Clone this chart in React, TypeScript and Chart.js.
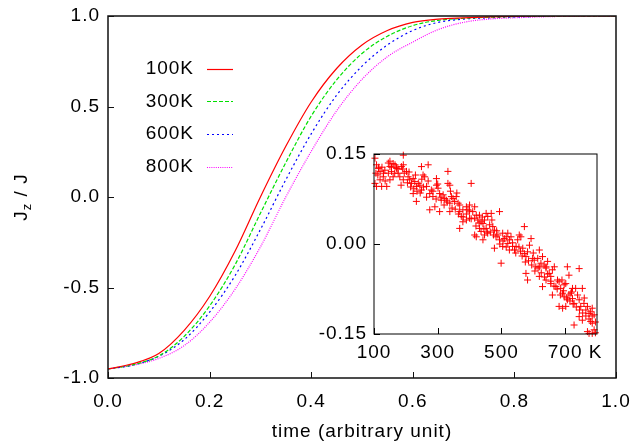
import { useEffect, useRef } from 'react';
import { Chart, registerables } from 'chart.js';

Chart.register(...registerables);

const FONT_FAMILY = '"Liberation Sans", Arial, Helvetica, sans-serif';
const FONT_SIZE = 19;

// ---- main plot data ----
const times = [0, 0.05, 0.1, 0.15, 0.2, 0.25, 0.3, 0.35, 0.4, 0.45, 0.5, 0.55, 0.6, 0.65, 0.7, 0.75, 0.8, 0.85, 0.9, 0.95, 1.0];
const series100K = [-0.95, -0.92, -0.865, -0.737, -0.55, -0.3, 0.0, 0.28, 0.525, 0.71, 0.84, 0.92, 0.965, 0.983, 0.99, 0.995, 0.998, 1.0, 1.0, 1.0, 1.0];
const series300K = [-0.95, -0.926, -0.878, -0.77, -0.602, -0.375, -0.09, 0.19, 0.447, 0.647, 0.793, 0.888, 0.947, 0.976, 0.987, 0.993, 0.997, 0.999, 1.0, 1.0, 1.0];
const series600K = [-0.95, -0.928, -0.88, -0.788, -0.636, -0.435, -0.18, 0.095, 0.349, 0.562, 0.723, 0.84, 0.92, 0.965, 0.983, 0.99, 0.995, 0.998, 1.0, 1.0, 1.0];
const series800K = [-0.95, -0.929, -0.892, -0.821, -0.692, -0.51, -0.276, 0.0, 0.252, 0.476, 0.65, 0.775, 0.856, 0.925, 0.965, 0.983, 0.99, 0.995, 0.998, 1.0, 1.0];
const seriesLabels = ['100K', '300K', '600K', '800K'];
const mainXTicks = [0, 0.2, 0.4, 0.6, 0.8, 1.0];
const mainYTicks = [-1, -0.5, 0, 0.5, 1];
const xTitle = 'time (arbitrary unit)';

// ---- inset data ----
const insetTemps = [
  103, 108, 114, 119, 106, 103, 108, 124, 140, 129, 119, 134, 150, 160, 166, 171, 155, 145, 160, 150,
  176, 181, 192, 186, 192, 192, 202, 207, 212, 218, 223, 228, 233, 223, 239, 244, 249, 254, 259, 249,
  233, 265, 270, 275, 280, 285, 296, 296, 301, 306, 311, 291, 275, 306, 317, 322, 327, 332, 332, 338,
  338, 343, 348, 353, 358, 364, 369, 338, 369, 374, 379, 390, 395, 400, 405, 410, 416, 416, 421, 426,
  431, 436, 442, 447, 452, 457, 463, 468, 369, 379, 390, 400, 416, 421, 431, 436, 442, 447, 452, 457,
  473, 478, 483, 489, 494, 494, 504, 509, 515, 520, 478, 499, 504, 525, 530, 535, 541, 546, 551, 556,
  561, 567, 572, 572, 577, 582, 588, 593, 598, 603, 608, 614, 619, 624, 629, 634, 640, 645, 650, 655,
  660, 666, 577, 582, 619, 629, 640, 655, 660, 671, 676, 681, 686, 692, 697, 702, 707, 712, 697, 707,
  712, 723, 728, 733, 739, 744, 744, 749, 754, 759, 765, 770, 775, 780, 785, 791, 681, 692, 728, 744,
  754, 770, 775, 780, 785, 791, 785, 795, 619, 702, 718, 723,
  112, 125, 135, 145, 155, 165, 175, 185, 195, 205, 215, 225, 235, 245, 255, 265, 285, 295, 310, 320,
  330, 345, 355, 365, 380, 390, 405, 420, 430, 445, 455, 465, 475, 485, 495, 505, 515, 525, 535, 545,
  555, 565, 575, 585, 595, 605, 615, 625, 635, 645, 655, 665, 675, 685, 695, 705, 715, 725, 735, 745,
  755, 765, 775, 785, 795, 760, 720, 690, 600, 640, 560, 520, 470, 440, 400, 360, 340, 300, 270, 250,
  230, 210, 190, 170, 150, 130, 115,
];
const insetValues = [
  0.143, 0.132, 0.126, 0.121, 0.118, 0.101, 0.096, 0.096, 0.096, 0.112, 0.107, 0.123, 0.129, 0.134, 0.132, 0.126, 0.121, 0.118, 0.112, 0.107,
  0.118, 0.112, 0.107, 0.129, 0.132, 0.148, 0.121, 0.112, 0.107, 0.101, 0.109, 0.104, 0.096, 0.084, 0.101, 0.098, 0.129, 0.115, 0.112, 0.09,
  0.071, 0.096, 0.132, 0.084, 0.09, 0.079, 0.109, 0.098, 0.093, 0.084, 0.073, 0.062, 0.057, 0.054, 0.082, 0.076, 0.073, 0.121, 0.101, 0.098,
  0.068, 0.079, 0.076, 0.071, 0.079, 0.068, 0.065, 0.054, 0.054, 0.046, 0.057, 0.062, 0.057, 0.065, 0.101, 0.054, 0.062, 0.043, 0.048, 0.04,
  0.048, 0.037, 0.034, 0.04, 0.051, 0.046, 0.032, 0.051, 0.026, 0.037, 0.04, 0.043, 0.015, 0.012, 0.026, 0.021, 0.007, 0.015, 0.026, 0.018,
  0.029, 0.023, 0.012, 0.015, 0.054, 0.007, 0.018, 0.009, 0.012, 0.001, -0.007, -0.032, -0.004, 0.007, 0.012, -0.004, -0.01, -0.004, 0.007, 0.015,
  0.012, -0.007, 0.029, -0.016, -0.021, -0.013, -0.002, 0.009, -0.024, -0.027, -0.038, -0.024, -0.01, -0.032, -0.021, -0.035, -0.038, -0.029, -0.049, -0.054,
  -0.043, -0.038, -0.049, -0.06, -0.054, -0.071, -0.06, -0.066, -0.085, -0.071, -0.06, -0.063, -0.074, -0.082, -0.068, -0.066, -0.038, -0.052, -0.088, -0.093,
  -0.085, -0.091, -0.099, -0.074, -0.085, -0.041, -0.093, -0.104, -0.074, -0.099, -0.11, -0.104, -0.116, -0.113, -0.107, -0.118, -0.104, -0.107, -0.135, -0.121,
  -0.127, -0.146, -0.149, -0.129, -0.132, -0.143, -0.149, -0.148, -0.038, -0.104, -0.082, -0.074,
  0.115, 0.128, 0.105, 0.135, 0.128, 0.118, 0.125, 0.098, 0.118, 0.102, 0.095, 0.092, 0.088, 0.085, 0.095, 0.078, 0.088, 0.075, 0.078, 0.065,
  0.07, 0.06, 0.058, 0.05, 0.045, 0.05, 0.042, 0.03, 0.035, 0.025, 0.02, 0.02, 0.015, 0.022, 0.0, 0.005, -0.005, -0.01, 0.002, -0.015,
  -0.005, -0.02, -0.03, -0.028, -0.035, -0.045, -0.04, -0.048, -0.055, -0.05, -0.062, -0.07, -0.075, -0.085, -0.078, -0.09, -0.095, -0.1, -0.105, -0.11,
  -0.115, -0.12, -0.125, -0.12, -0.13, -0.09, -0.08, -0.06, -0.015, -0.04, -0.012, 0.018, 0.04, 0.045, 0.055, 0.085, 0.088, 0.1, 0.105, 0.108,
  0.115, 0.12, 0.125, 0.128, 0.138, 0.118, 0.128,
];
const insetXTicks = [100, 300, 500, 700];
const insetYTicks = [-0.15, 0, 0.15];
const insetUnit = 'K';

// ---- styles ----
const seriesValues = [series100K, series300K, series600K, series800K];
const seriesColors = ['#ff0000', '#00e000', '#0000ff', '#ff00ff'];
const seriesDashes: number[][] = [[], [4, 2], [2, 3], [1, 1.2]];

const font = { family: FONT_FAMILY, size: FONT_SIZE, lineHeight: 1.2 };

const zeroPad = (s: any) => {
  s.paddingLeft = 0;
  s.paddingRight = 0;
  s.paddingTop = 0;
  s.paddingBottom = 0;
};

const spacingPlugin = {
  id: 'spacing',
  beforeUpdate(chart: any) { chart.ctx.letterSpacing = '1px'; },
  beforeLayout(chart: any) { chart.ctx.letterSpacing = '1px'; },
  beforeDraw(chart: any) { chart.ctx.letterSpacing = '1px'; },
};

const frameTicksPlugin = {
  id: 'frameTicks',
  afterDraw(chart: any, _args: any, opts: any) {
    const { ctx, chartArea: a, scales } = chart;
    ctx.save();
    ctx.strokeStyle = opts.color || '#000';
    ctx.lineWidth = opts.borderWidth || 1;
    ctx.setLineDash([]);
    ctx.strokeRect(a.left, a.top, a.right - a.left, a.bottom - a.top);
    ctx.lineWidth = opts.tickWidth || 1;
    ctx.beginPath();
    const len = opts.len || 6;
    scales.x.ticks.forEach((t: any) => {
      const x = Math.round(scales.x.getPixelForValue(t.value)) + 0.5;
      ctx.moveTo(x, a.bottom);
      ctx.lineTo(x, a.bottom - len);
    });
    scales.y.ticks.forEach((t: any) => {
      const y = Math.round(scales.y.getPixelForValue(t.value)) + 0.5;
      ctx.moveTo(a.left, y);
      ctx.lineTo(a.left + len, y);
    });
    ctx.stroke();
    ctx.restore();
  },
};

const keyPlugin = {
  id: 'keyBox',
  afterDatasetsDraw(chart: any) {
    const { ctx, chartArea: a } = chart;
    ctx.save();
    ctx.letterSpacing = '1px';
    ctx.font = `${FONT_SIZE}px ${FONT_FAMILY}`;
    ctx.textAlign = 'right';
    ctx.textBaseline = 'middle';
    chart.data.datasets.forEach((ds: any, i: number) => {
      const y = a.top + 52.5 + i * 32.8;
      ctx.fillStyle = '#000';
      ctx.fillText(ds.label, a.left + 86, y);
      ctx.strokeStyle = ds.borderColor;
      ctx.lineWidth = ds.borderWidth;
      ctx.setLineDash(ds.borderDash || []);
      ctx.beginPath();
      ctx.moveTo(a.left + 99, Math.round(y) + 0.5);
      ctx.lineTo(a.left + 125, Math.round(y) + 0.5);
      ctx.stroke();
    });
    ctx.restore();
  },
};

const yTitlePlugin = {
  id: 'yTitle',
  afterDraw(chart: any) {
    const { ctx, chartArea: a } = chart;
    ctx.save();
    ctx.letterSpacing = '1px';
    const big = `${FONT_SIZE}px ${FONT_FAMILY}`;
    const small = `13px ${FONT_FAMILY}`;
    ctx.font = big;
    const w1 = ctx.measureText('J').width;
    const w3 = ctx.measureText(' / J').width;
    ctx.font = small;
    const w2 = ctx.measureText('z').width;
    const total = w1 + w2 + w3;
    ctx.translate(22, (a.top + a.bottom) / 2);
    ctx.rotate(-Math.PI / 2);
    ctx.fillStyle = '#000';
    ctx.textAlign = 'left';
    ctx.textBaseline = 'middle';
    let x = -total / 2;
    ctx.font = big;
    ctx.fillText('J', x, 0);
    x += w1;
    ctx.font = small;
    ctx.fillText('z', x, 5);
    x += w2;
    ctx.font = big;
    ctx.fillText(' / J', x, 0);
    ctx.restore();
  },
};

const unitPlugin = {
  id: 'unitSuffix',
  afterDraw(chart: any) {
    const s = chart.scales.x;
    const { ctx } = chart;
    let items: any[] = [];
    try { items = s.getLabelItems(chart.chartArea) || []; } catch (e) { items = []; }
    if (!items.length) return;
    const it = items[items.length - 1];
    const [tx, ty] = it.options.translation;
    ctx.save();
    ctx.letterSpacing = '1px';
    ctx.font = it.font.string;
    ctx.fillStyle = '#000';
    ctx.textBaseline = it.options.textBaseline;
    ctx.textAlign = 'left';
    const w = ctx.measureText(String(it.label)).width;
    ctx.fillText(' ' + insetUnit, tx + w / 2, ty + (it.textOffset || 0));
    ctx.restore();
  },
};

export default function App() {
  const mainRef = useRef<HTMLCanvasElement | null>(null);
  const insetRef = useRef<HTMLCanvasElement | null>(null);

  useEffect(() => {
    document.body.style.margin = '0';
    if (!mainRef.current || !insetRef.current) return;

    const main = new Chart(mainRef.current, {
      type: 'line',
      data: {
        datasets: seriesValues.map((vals, i) => ({
          label: seriesLabels[i],
          data: times.map((t, j) => ({ x: t, y: vals[j] })),
          borderColor: seriesColors[i],
          backgroundColor: seriesColors[i],
          borderWidth: 1.2,
          borderDash: seriesDashes[i],
          pointRadius: 0,
          fill: false,
          cubicInterpolationMode: 'monotone',
        })),
      },
      options: {
        animation: false,
        responsive: false,
        devicePixelRatio: 1,
        layout: { padding: { left: 0, top: 16, right: 17, bottom: 0 } },
        plugins: {
          legend: { display: false },
          tooltip: { enabled: false },
          frameTicks: { color: '#111', borderWidth: 1.5, tickWidth: 1, len: 6 },
        } as any,
        scales: {
          x: {
            type: 'linear',
            min: 0,
            max: 1,
            grid: { display: false, drawTicks: false },
            border: { display: false },
            afterBuildTicks: (s: any) => { s.ticks = mainXTicks.map((v) => ({ value: v })); },
            afterFit: (s: any) => { s.height = 65; zeroPad(s); },
            ticks: {
              font,
              color: '#000',
              padding: 12,
              maxRotation: 0,
              autoSkip: false,
              callback: (v: any) => Number(v).toFixed(1),
            },
            title: { display: true, text: xTitle, font, color: '#000', padding: 0 },
          },
          y: {
            type: 'linear',
            min: -1,
            max: 1,
            grid: { display: false, drawTicks: false },
            border: { display: false },
            afterBuildTicks: (s: any) => { s.ticks = mainYTicks.map((v) => ({ value: v })); },
            afterFit: (s: any) => { s.width = 108; zeroPad(s); },
            ticks: {
              font,
              color: '#000',
              padding: 8,
              autoSkip: false,
              callback: (v: any) => Number(v).toFixed(1),
            },
          },
        },
      } as any,
      plugins: [spacingPlugin, frameTicksPlugin, keyPlugin, yTitlePlugin],
    });

    const inset = new Chart(insetRef.current, {
      type: 'scatter',
      data: {
        datasets: [
          {
            label: 'inset',
            data: insetTemps.map((t, i) => ({ x: t, y: insetValues[i] })),
            borderColor: '#ff0000',
            backgroundColor: '#ff0000',
            pointStyle: 'cross',
            pointRadius: 3.5,
            borderWidth: 1,
            clip: false,
          },
        ],
      },
      options: {
        animation: false,
        responsive: false,
        devicePixelRatio: 1,
        layout: { padding: { left: 0, top: 14, right: 23, bottom: 0 } },
        plugins: {
          legend: { display: false },
          tooltip: { enabled: false },
          frameTicks: { color: '#000', borderWidth: 1, tickWidth: 1, len: 6 },
        } as any,
        scales: {
          x: {
            type: 'linear',
            min: 100,
            max: 800,
            grid: { display: false, drawTicks: false },
            border: { display: false },
            afterBuildTicks: (s: any) => { s.ticks = insetXTicks.map((v) => ({ value: v })); },
            afterFit: (s: any) => { s.height = 46; zeroPad(s); },
            ticks: {
              font,
              color: '#000',
              padding: 7,
              maxRotation: 0,
              autoSkip: false,
              callback: (v: any) => String(v),
            },
          },
          y: {
            type: 'linear',
            min: -0.15,
            max: 0.15,
            grid: { display: false, drawTicks: false },
            border: { display: false },
            afterBuildTicks: (s: any) => { s.ticks = insetYTicks.map((v) => ({ value: v })); },
            afterFit: (s: any) => { s.width = 74; zeroPad(s); },
            ticks: {
              font,
              color: '#000',
              padding: 7,
              autoSkip: false,
              callback: (v: any) => Number(v).toFixed(2),
            },
          },
        },
      } as any,
      plugins: [spacingPlugin, frameTicksPlugin, unitPlugin],
    });

    return () => {
      main.destroy();
      inset.destroy();
    };
  }, []);

  return (
    <div style={{ position: 'relative', width: 633, height: 443, background: '#fff' }}>
      <canvas ref={mainRef} width={633} height={443} style={{ position: 'absolute', left: 0, top: 0, display: 'block' }} />
      <canvas ref={insetRef} width={320} height={240} style={{ position: 'absolute', left: 300, top: 140, display: 'block' }} />
    </div>
  );
}
